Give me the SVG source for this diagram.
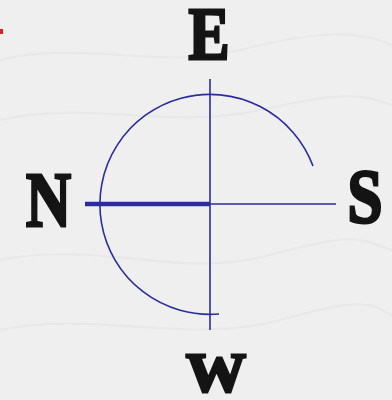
<svg xmlns="http://www.w3.org/2000/svg" width="392" height="400" viewBox="0 0 392 400">
<style>
.lbl{font-family:"Liberation Serif","Times New Roman",serif;font-weight:bold;fill:#141414;stroke:#141414;stroke-width:3;stroke-linejoin:miter;text-anchor:middle}
.ln{stroke:#2c2c9e;fill:none;stroke-width:1.6}
.thick{stroke-width:4.5}
</style>
<rect width="392" height="400" fill="#efeff0"/>
<g opacity="0.25" stroke="#d6d6d8" fill="none" stroke-width="2">
<path d="M0 60 C80 40 160 70 240 50 S360 30 392 45"/>
<path d="M0 120 C90 100 170 130 260 110 S360 95 392 105"/>
<path d="M0 260 C100 240 180 280 270 255 S360 240 392 250"/>
<path d="M0 330 C90 310 190 345 280 320 S370 305 392 315"/>
</g>
<rect x="0" y="29" width="3" height="5" fill="#e0201c"/>
<g id="connectors">
<line class="ln" x1="210" y1="79" x2="210" y2="330"/>
<line class="ln" x1="210" y1="204" x2="336" y2="204"/>
<line class="ln thick" x1="85" y1="204" x2="210" y2="204"/>
<path class="ln" d="M313 166 A110 110 0 1 0 219 314"/>
</g>
<g id="E"><text class="lbl" x="209" y="58.5" font-size="75" textLength="41" lengthAdjust="spacingAndGlyphs">E</text></g>
<g id="N"><text class="lbl" x="48.5" y="225.5" font-size="78" textLength="45" lengthAdjust="spacingAndGlyphs">N</text></g>
<g id="S"><text class="lbl" x="365" y="221.5" font-size="77" textLength="35" lengthAdjust="spacingAndGlyphs">S</text></g>
<g id="W"><text class="lbl" x="216" y="390.5" font-size="55" textLength="60" lengthAdjust="spacingAndGlyphs">W</text></g>
</svg>
